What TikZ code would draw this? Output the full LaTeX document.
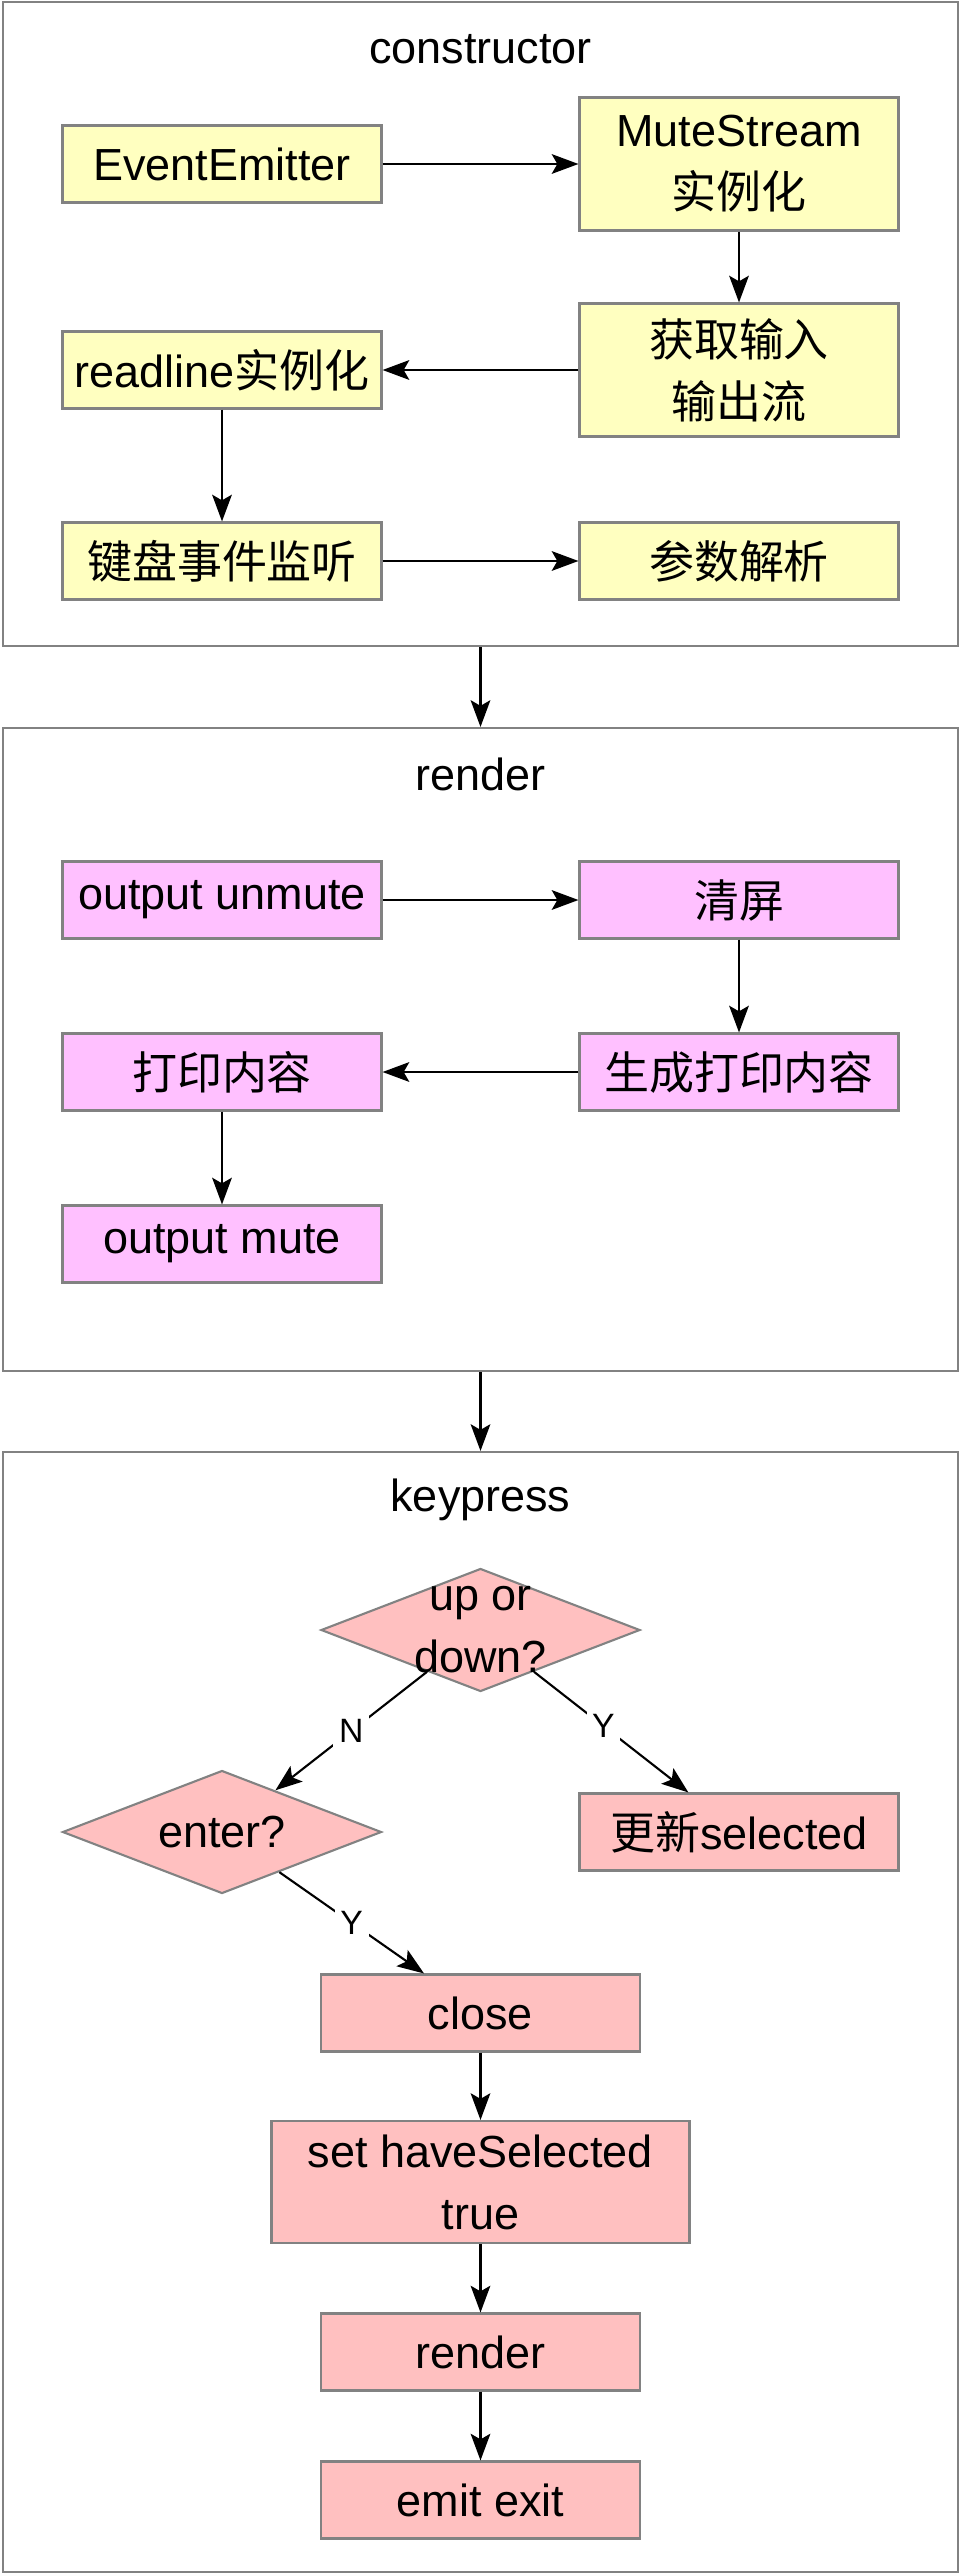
\documentclass[tikz,border=0pt]{standalone}
\usepackage{fontspec}
\setmainfont{Liberation Sans}
\newfontfamily\cjk{Noto Sans CJK SC}
\usepackage{tikz}
\usetikzlibrary{arrows.meta,shapes.geometric}
\definecolor{boxline}{HTML}{828282}
\definecolor{ctorfill}{HTML}{FFFFC0}
\definecolor{rendfill}{HTML}{FFC0FF}
\definecolor{keyfill}{HTML}{FFC0C0}

\begin{document}
\begin{tikzpicture}[>={Stealth[length=19pt,width=14pt,inset=4pt]},
  every node/.style={font=\fontsize{32}{44}\selectfont},
  group/.style={draw=boxline,line width=1.5pt,minimum width=23.875cm,inner sep=0pt},
  stepbox/.style={draw=boxline,line width=1.5pt,minimum width=7.975cm,minimum height=1.925cm,align=center,inner sep=2pt},
  tallbox/.style={stepbox,minimum height=3.325cm},
  choice/.style={diamond,draw=boxline,line width=1.5pt,fill=keyfill,minimum width=7.975cm,minimum height=3.075cm,inner sep=0pt},
  flow/.style={->,line width=1.5pt},
  yn/.style={fill=white,inner sep=4pt,font=\fontsize{24}{28}\selectfont}]
  \useasboundingbox (0,0) rectangle (24.025,-64.35);
  % groups
  \node[group,minimum height=16.1cm]   (ctor)  at (12.0125,-8.1)    {};
  \node[group,minimum height=16.075cm] (rend)  at (12.0125,-26.2375) {};
  \node[group,minimum height=28cm]     (keyp)  at (12.0125,-50.3)   {};
  \node (ctortitle) at (12.0125,-1.225) {constructor};
  \node (rendtitle) at (12.0125,-19.35) {render};
  \node (keytitle)  at (12.0125,-37.5)  {keypress};
  \draw[flow] (ctor.south) -- (rend.north);
  \draw[flow] (rend.south) -- (keyp.north);
  % constructor
  \node[stepbox,fill=ctorfill] (emitter) at (5.55,-4.1)    {EventEmitter};
  \node[tallbox,fill=ctorfill] (mute)    at (18.475,-4.1)  {MuteStream\\{\cjk 实例化}};
  \node[tallbox,fill=ctorfill] (stream)  at (18.475,-9.25) {{\cjk 获取输入}\\{\cjk 输出流}};
  \node[stepbox,fill=ctorfill] (rline)   at (5.55,-9.25)   {readline{\cjk 实例化}};
  \node[stepbox,fill=ctorfill] (keys)    at (5.55,-14.025) {\cjk 键盘事件监听};
  \node[stepbox,fill=ctorfill] (params)  at (18.475,-14.025) {\cjk 参数解析};
  \draw[flow] (emitter) -- (mute);
  \draw[flow] (mute) -- (stream);
  \draw[flow] (stream) -- (rline);
  \draw[flow] (rline) -- (keys);
  \draw[flow] (keys) -- (params);
  % render
  \node[stepbox,fill=rendfill] (unmute)  at (5.55,-22.5)   {output unmute};
  \node[stepbox,fill=rendfill] (clear)   at (18.475,-22.5) {\cjk 清屏};
  \node[stepbox,fill=rendfill] (makeout) at (18.475,-26.8) {\cjk 生成打印内容};
  \node[stepbox,fill=rendfill] (print)   at (5.55,-26.8)   {\cjk 打印内容};
  \node[stepbox,fill=rendfill] (remute)  at (5.55,-31.1)   {output mute};
  \draw[flow] (unmute) -- (clear);
  \draw[flow] (clear) -- (makeout);
  \draw[flow] (makeout) -- (print);
  \draw[flow] (print) -- (remute);
  % keypress
  \node[choice] (updown) at (12.0125,-40.75) {};
  \node[align=center] (updowntext) at (updown) {up or\\down?};
  \node[choice] (enter) at (5.55,-45.8) {};
  \node (entertext) at (enter) {enter?};
  \node[stepbox,fill=keyfill] (update) at (18.475,-45.8)  {{\cjk 更新}selected};
  \node[stepbox,fill=keyfill] (close)  at (12.0125,-50.325) {close};
  \node[stepbox,fill=keyfill,minimum width=10.45cm,minimum height=3.05cm] (haveset) at (12.0125,-54.55) {set haveSelected\\true};
  \node[stepbox,fill=keyfill] (again)  at (12.0125,-58.8) {render};
  \node[stepbox,fill=keyfill] (leave)  at (12.0125,-62.5) {emit exit};
  \draw[flow] (updown) -- node[yn] {N} (enter);
  \draw[flow] (updown) -- node[yn,pos=0.45] {Y} (update);
  \draw[flow] (enter) -- node[yn] {Y} (close);
  \draw[flow] (close) -- (haveset);
  \draw[flow] (haveset) -- (again);
  \draw[flow] (again) -- (leave);
\end{tikzpicture}
\end{document}
